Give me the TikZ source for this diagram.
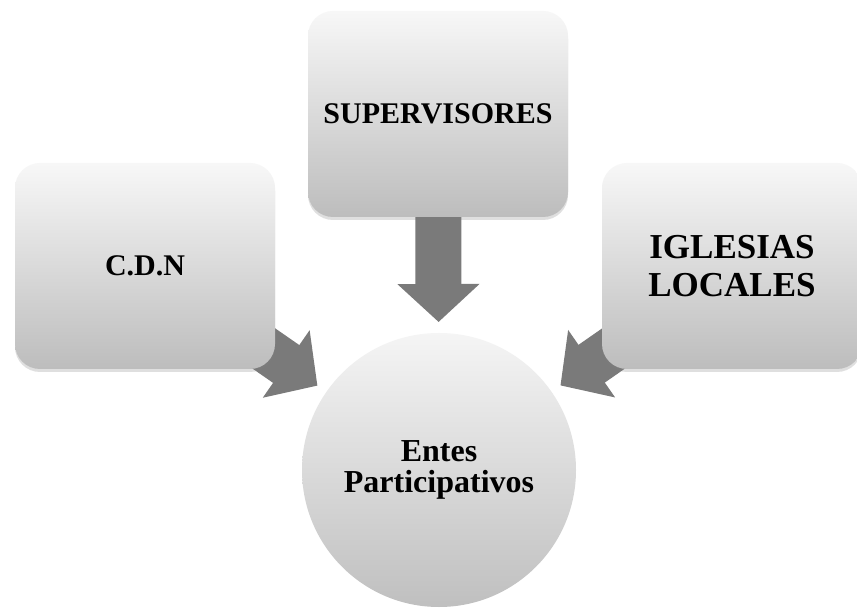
\documentclass[tikz,border=0pt]{standalone}
\usepackage{fontspec}
\setmainfont{Liberation Serif}
\usetikzlibrary{arrows.meta,shadows,backgrounds}

\begin{document}
\begin{tikzpicture}[x=1pt,y=1pt,
  caja/.style={rectangle,rounded corners=25pt,minimum width=260pt,minimum height=206pt,inner sep=0pt,align=center,
    top color=black!3,middle color=black!7,bottom color=black!26,
    drop shadow={opacity=0.25,shadow xshift=0pt,shadow yshift=-3pt}},
  ente/.style={circle,minimum size=274pt,inner sep=0pt,align=center,top color=black!4,bottom color=black!25},
  flecha/.style={line width=46pt,draw=black!52,-{Triangle[length=38pt,width=80pt]},shorten >=148pt}]
\useasboundingbox (0,0) rectangle (857,611);
\node[caja,font=\bfseries\fontsize{30}{32}\selectfont] (sup) at (438,497) {SUPERVISORES};
\node[caja,font=\bfseries\fontsize{30}{32}\selectfont] (cdn) at (145,345) {C.D.N};
\node[caja,font=\bfseries\fontsize{35}{38}\selectfont] (igl) at (732,345) {IGLESIAS\\LOCALES};
\node[ente,font=\bfseries\fontsize{32}{31}\selectfont] (ent) at (439,141) {Entes\\Participativos};
\begin{pgfonlayer}{background}
\fill[white] (0,0) rectangle (857,611);
\draw[flecha] (sup.center) -- (ent.center);
\draw[flecha] (cdn.center) -- (ent.center);
\draw[flecha] (igl.center) -- (ent.center);
\end{pgfonlayer}
\end{tikzpicture}
\end{document}
